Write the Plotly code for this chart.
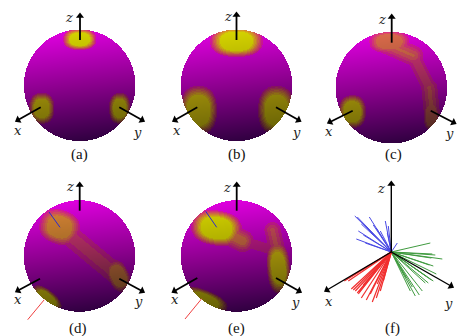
import numpy as np
import plotly.graph_objects as go

W, H = 457, 336
SPHERE_R = 55.3
names = ["a", "b", "c", "d", "e"]
centers = {"a": (79.7, 85.3), "b": (236.5, 85.3), "c": (391.3, 87.7), "d": (79.5, 256.0), "e": (236.5, 256.0)}
# Highlight patches: dx, dy, rx, ry, rotation deg, strength
blobs = {
    "a": [(0, -46, 17, 11, 0, 1), (-38, 23, 13, 16, 0, .85), (40, 23, 11, 16, 0, .85)],
    "b": [(0, -44, 27, 16, 0, 1), (-38, 25, 19, 25, 0, .9), (40, 25, 19, 25, 0, .9)],
    "c": [(-39, 24, 14, 17, 0, .9), (-2, -46, 21, 12, 0, .5), (40, 28, 8, 16, 0, .42)],
    "d": [(-20, -29, 21, 18, 20, .6), (39, 20, 11, 17, -25, .55), (-33, 43, 18, 9, 40, .9)],
    "e": [(-20, -28, 26, 18, 10, 1), (42, 12, 12, 27, -5, .85), (-32, 44, 25, 10, 22, .85)],
}
# Faint ridges between patches: x0, y0, x1, y1, half width, strength
ridges = {
    "a": [], "b": [],
    "c": [(-10, -46, 22, -32, 13, .45), (22, -32, 38, 0, 10, .28), (38, 0, 41, 30, 11, .34)],
    "d": [(-20, -29, 39, 20, 15, .26)],
    "e": [(-20, -28, 6, -15, 14, .55), (6, -15, 36, -6, 10, .12), (36, -26, 42, 0, 11, .35)],
}
axis_segments = {
    "a": [(80, 40, 80, 16), (40.7, 107.3, 18, 120), (119.3, 107.3, 142, 120)],
    "b": [(236.5, 40, 236.5, 15), (197.3, 107.3, 175, 120), (276, 107.3, 298.5, 120)],
    "c": [(391.7, 42.7, 391.7, 17), (352.7, 110.7, 330, 122), (430.7, 110.7, 453.5, 122.5)],
    "d": [(79.7, 210.7, 79.7, 185), (40, 278.7, 18, 290.5), (119.3, 278.7, 142, 291)],
    "e": [(236.7, 210.7, 236.7, 185), (197.3, 278, 174.5, 291), (276, 278, 299, 291)],
    "f": [(391.3, 252, 391.3, 184), (391.3, 252, 327, 290), (391.3, 252, 451, 286)],
}
axis_labels = {
    "a": [(69, 17), (18, 130), (137.5, 132)],
    "b": [(228, 16), (176.5, 130), (296.5, 132)],
    "c": [(381.5, 19), (329, 131), (449, 133)],
    "d": [(70, 186), (18, 299), (138, 301)],
    "e": [(227, 187), (175, 299), (295, 302)],
    "f": [(380.7, 188), (329, 301), (448.3, 303)],
}
captions = {"a": (79.5, 154), "b": (237.3, 154), "c": (393.7, 154), "d": (78.3, 328), "e": (236.7, 328), "f": (392.7, 328)}
thin_blue = {"d": (49, 212, 60, 227.3), "e": (205.7, 211.3, 216.7, 227.3)}
thin_red = {"d": (44.3, 299.7, 27.7, 319.7), "e": (201.7, 298.7, 185, 319)}

f_origin = (391.3, 252)
f_blue = [(-36.5, -36), (-34, -35), (-22, -35), (-6, -31), (-4, -19), (-33, -21), (-35, -13), (-26, -9),
          (6, -9), (-15, -24), (-11, -21), (-18, -27), (-30, -28), (-28, -17), (-3, -26)]
f_green = [(39, -9), (41, 2), (51, 7), (40, 6), (42, 14), (45, 22), (37, 31), (42, 29), (31, 39), (28, 43),
           (24, 44), (19, 39), (40, 28), (34, 31), (15, 26), (44, 3), (36, 25), (21, 35), (38, 13)]
f_red = [(-47, 29), (-45, 27.5), (-36, 39), (-40, 37), (-34, 41), (-33, 42), (-25, 48), (-19, 50), (-30, 46),
         (-11, 39), (-8, 29), (-28, 33), (-38, 38), (-32, 40), (-21, 42), (-15, 46), (-43, 29), (-14, 32)]

BANDS = 8
rgba = np.zeros((H, W, 4), dtype=np.uint8)
yy, xx = np.mgrid[0:H, 0:W] + 0.5
for n in names:
    cx, cy = centers[n]
    dx, dy = xx - cx, yy - cy
    dist = np.hypot(dx, dy)
    alpha = np.clip(SPHERE_R - dist + 0.5, 0, 1)
    t = np.clip((dy + dx * 0.12 + SPHERE_R) / (2 * SPHERE_R), 0, 1)[..., None]
    top = np.array([222.0, 0, 222])
    mid = np.array([140.0, 0, 142])
    low = np.array([50.0, 0, 66])
    base = np.where(t < .5, top + (mid - top) * (t / .5), mid + (low - mid) * ((t - .5) / .5))
    field = np.zeros((H, W))
    for bx, by, rx, ry, rot, s in blobs[n]:
        a = np.deg2rad(rot)
        u = ((dx - bx) * np.cos(a) + (dy - by) * np.sin(a)) / rx
        v = (-(dx - bx) * np.sin(a) + (dy - by) * np.cos(a)) / ry
        d = (np.abs(u) ** 2.4 + np.abs(v) ** 2.4) ** (1 / 2.4)
        field = np.maximum(field, s * np.clip((1 - d) / 0.42, 0, 1))
    for x0, y0, x1, y1, w, s in ridges[n]:
        ax, ay = x1 - x0, y1 - y0
        p = np.clip(((dx - x0) * ax + (dy - y0) * ay) / (ax * ax + ay * ay), 0, 1)
        d = np.hypot(dx - x0 - p * ax, dy - y0 - p * ay) / w
        k = np.clip(1 - d, 0, 1)
        field = np.maximum(field, s * k * k * (3 - 2 * k))
    q = (np.round(field * BANDS) / BANDS)[..., None]
    yellow = np.array([214.0, 212, 0]) * (1 - t) + np.array([105.0, 108, 0]) * t
    # blue fades faster than red and green rise, giving the brown mid tones
    mix = np.concatenate([q, q, q ** 0.6], axis=2)
    col = base + (yellow - base) * mix
    m = dist < SPHERE_R + 1
    rgba[m, :3] = np.clip(col[m], 0, 255).astype(np.uint8)
    rgba[m, 3] = (alpha[m] * 255).astype(np.uint8)

fig = go.Figure()
fig.add_trace(go.Image(z=rgba, colormodel="rgba", x0=0.5, y0=0.5, dx=1, dy=1, hoverinfo="skip"))


def fan(ends, color, width, opacity=1.0):
    xs, ys = [], []
    for ex, ey in ends:
        xs += [f_origin[0], f_origin[0] + ex, None]
        ys += [f_origin[1], f_origin[1] + ey, None]
    fig.add_trace(go.Scatter(x=xs, y=ys, mode="lines", opacity=opacity, line=dict(color=color, width=width)))


fan(f_blue, "#2a2ae0", 1.0, .85)
fan(f_green, "#1f8a1f", 1.0, .85)
fan(f_red, "#f01818", 1.2, .9)

for seg in list(thin_blue.values()):
    fig.add_trace(go.Scatter(x=[seg[0], seg[2]], y=[seg[1], seg[3]], mode="lines", line=dict(color="#2a2ad0", width=1)))
for seg in list(thin_red.values()):
    fig.add_trace(go.Scatter(x=[seg[0], seg[2]], y=[seg[1], seg[3]], mode="lines", line=dict(color="#f04040", width=1)))

for n, segs in axis_segments.items():
    for x0, y0, x1, y1 in segs:
        fig.add_trace(go.Scatter(x=[x0, x1], y=[y0, y1], mode="lines",
                                 line=dict(color="black", width=1.8 if n != "f" else 1.4)))
        fig.add_trace(go.Scatter(x=[x1], y=[y1], mode="markers",
                                 marker=dict(symbol="triangle-up", size=7, color="black", line=dict(width=0),
                                             angle=float(np.degrees(np.arctan2(x1 - x0, y0 - y1))))))

annotations = []
for n, pts in axis_labels.items():
    for (lx, ly), letter in zip(pts, "zxy"):
        annotations.append(dict(x=lx, y=ly, text=f"<i>{letter}</i>", showarrow=False, xref="x", yref="y",
                                font=dict(family="DejaVu Serif", size=13, color="#222")))
for n, (lx, ly) in captions.items():
    annotations.append(dict(x=lx, y=ly, text=f"({n})", showarrow=False, xref="x", yref="y",
                            font=dict(family="Liberation Serif", size=15, color="#111")))

fig.update_layout(
    width=W, height=H, margin=dict(l=0, r=0, t=0, b=0), showlegend=False,
    paper_bgcolor="white", plot_bgcolor="white", annotations=annotations,
    xaxis=dict(range=[0, W], visible=False, constrain="domain"),
    yaxis=dict(range=[H, 0], visible=False),
)
fig.write_html("out.html", config={"displayModeBar": False},
               post_script="document.body.style.margin='0';document.documentElement.style.overflow='hidden';")
